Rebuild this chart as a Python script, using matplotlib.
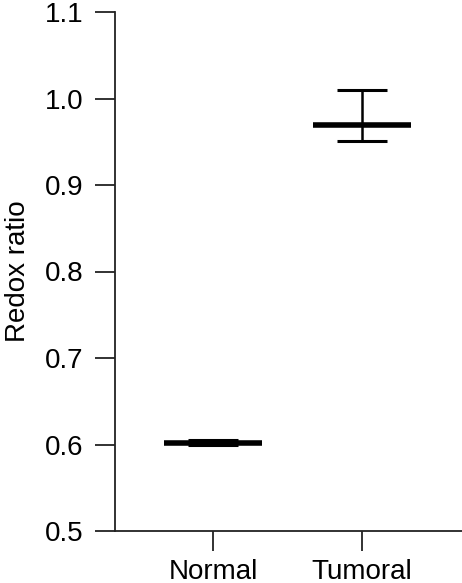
import matplotlib
matplotlib.use("Agg")
import matplotlib.pyplot as plt
import numpy as np

categories = ["Normal", "Tumoral"]
means = [0.602, 0.969]
lower = [0.600, 0.951]
upper = [0.605, 1.010]
yticks = [0.5, 0.6, 0.7, 0.8, 0.9, 1.0, 1.1]

plt.rcParams['font.family'] = ['Liberation Sans', 'DejaVu Sans']

W, H = 462, 583
fig = plt.figure(figsize=(W/100, H/100), dpi=100)
ax = fig.add_axes([115/W, (H-531)/H, (W-115)/W, (531-12)/H])

x = np.arange(len(categories))
m = np.array(means)
err = np.array([m - np.array(lower), np.array(upper) - m])
ax.errorbar(x, m, yerr=err, fmt='none', ecolor='black', elinewidth=1.8,
            capsize=18, capthick=2.2, zorder=2)
ax.hlines(m, x - 0.326, x + 0.326, colors='black', linewidth=4, zorder=3)

ax.set_xlim(-0.658, 1.671)
ax.set_ylim(0.5, 1.1)
ax.set_yticks(yticks)
ax.set_yticklabels([f"{v:.1f}" for v in yticks])
ax.set_xticks(x)
ax.set_xticklabels(categories)
ax.spines['top'].set_visible(False)
ax.spines['right'].set_visible(False)
for s in ['left', 'bottom']:
    ax.spines[s].set_linewidth(1.3)
    ax.spines[s].set_color('#222222')
ax.tick_params(axis='both', length=14.5, width=1.3, color='#222222',
               labelsize=20)
ax.tick_params(axis='y', pad=8)
ax.tick_params(axis='x', pad=6)
ax.set_ylabel("Redox ratio", fontsize=20, labelpad=10)

fig.savefig("out.png", dpi=100)
